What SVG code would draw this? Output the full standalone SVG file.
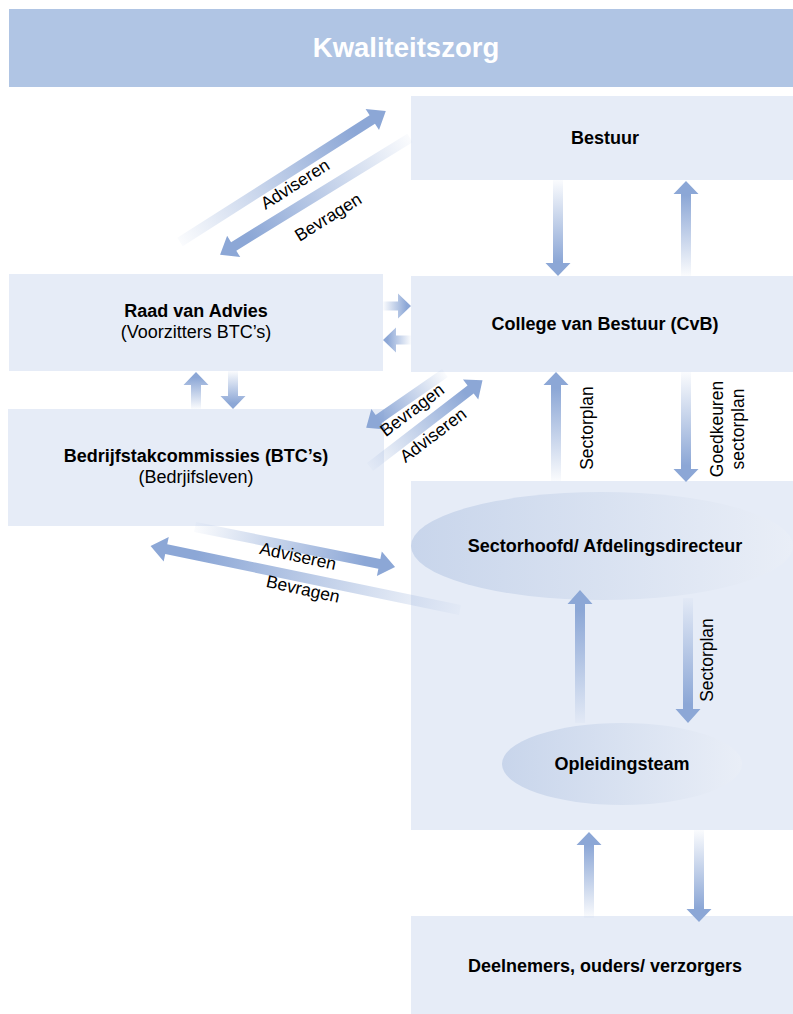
<svg xmlns="http://www.w3.org/2000/svg" width="793" height="1014" viewBox="0 0 793 1014">
<defs>
<linearGradient id="fade" x1="0" y1="0" x2="1" y2="0">
<stop offset="0" stop-color="#8CA7D6" stop-opacity="0.04"/>
<stop offset="0.85" stop-color="#8CA7D6" stop-opacity="1"/>
</linearGradient>
<linearGradient id="ell" x1="0" y1="0" x2="1" y2="0">
<stop offset="0" stop-color="#C8D5EB"/>
<stop offset="1" stop-color="#E9EEF7"/>
</linearGradient>
<style>
.box{fill:#E6ECF7}
.arr{fill:url(#fade)}
.b{font-family:"Liberation Sans",Arial,sans-serif;font-weight:bold;font-size:18px;fill:#000;text-anchor:middle}
.r{font-family:"Liberation Sans",Arial,sans-serif;font-size:18px;fill:#000;text-anchor:middle}
.lbl{font-family:"Liberation Sans",Arial,sans-serif;font-size:17.5px;fill:#000;text-anchor:middle}
</style>
</defs>
<rect width="793" height="1014" fill="#FFFFFF"/>
<g id="header">
<rect x="9" y="9" width="784" height="78" fill="#B0C5E4"/>
<text x="406" y="57" font-family="Liberation Sans, Arial, sans-serif" font-weight="bold" font-size="27.5" fill="#FFFFFF" text-anchor="middle">Kwaliteitszorg</text>
</g>
<g id="bestuur">
<rect class="box" x="411" y="96" width="382" height="84"/>
<text class="b" x="605" y="144">Bestuur</text>
</g>
<g id="raad">
<rect class="box" x="9" y="274" width="374" height="97"/>
<text class="b" x="196" y="317">Raad van Advies</text>
<text class="r" x="196" y="338">(Voorzitters BTC’s)</text>
</g>
<g id="cvb">
<rect class="box" x="411" y="276" width="382" height="96"/>
<text class="b" x="605" y="330">College van Bestuur (CvB)</text>
</g>
<g id="btc">
<rect class="box" x="8" y="409" width="376" height="117"/>
<text class="b" x="196" y="462">Bedrijfstakcommissies (BTC’s)</text>
<text class="r" x="196" y="483">(Bedrjifsleven)</text>
</g>
<g id="sector">
<rect class="box" x="411" y="481" width="382" height="349"/>
<ellipse cx="602" cy="546" rx="191" ry="54" fill="url(#ell)"/>
<text class="b" x="605" y="552">Sectorhoofd/ Afdelingsdirecteur</text>
</g>
<g id="opleidingsteam">
<ellipse cx="622" cy="764" rx="120" ry="41" fill="url(#ell)"/>
<text class="b" x="622" y="770">Opleidingsteam</text>
</g>
<g id="deelnemers">
<rect class="box" x="411" y="916" width="382" height="98"/>
<text class="b" x="605" y="972">Deelnemers, ouders/ verzorgers</text>
</g>
<g id="connectors">
<path class="arr" transform="translate(558,180) rotate(90)" d="M0,-5 H83 V-12.5 L96,0 L83,12.5 V5 H0 Z"/>
<path class="arr" transform="translate(686,276) rotate(-90)" d="M0,-5 H82 V-12.5 L95,0 L82,12.5 V5 H0 Z"/>
<path class="arr" transform="translate(383,306)" d="M0,-4.5 H15 V-12.5 L28,0 L15,12.5 V4.5 H0 Z"/>
<path class="arr" transform="translate(411,340) rotate(180)" d="M0,-4.5 H15 V-12.5 L28,0 L15,12.5 V4.5 H0 Z"/>
<path class="arr" transform="translate(196,409) rotate(-90)" d="M0,-5 H24 V-12.5 L37,0 L24,12.5 V5 H0 Z"/>
<path class="arr" transform="translate(233,371) rotate(90)" d="M0,-5 H25 V-12.5 L38,0 L25,12.5 V5 H0 Z"/>
<path class="arr" transform="translate(445,373) rotate(145.2)" d="M0,-5 H81 V-12.5 L96,0 L81,12.5 V5 H0 Z"/>
<path class="arr" transform="translate(370,467) rotate(-37.6)" d="M0,-5 H127 V-12.5 L142,0 L127,12.5 V5 H0 Z"/>
<path class="arr" transform="translate(180,242) rotate(-32.5)" d="M0,-5 H228 V-12.5 L244,0 L228,12.5 V5 H0 Z"/>
<path class="arr" transform="translate(410,138) rotate(148.4)" d="M0,-5 H207 V-12.5 L223,0 L207,12.5 V5 H0 Z"/>
<path class="arr" transform="translate(195,527) rotate(11.3)" d="M0,-5 H188 V-12.5 L204,0 L188,12.5 V5 H0 Z"/>
<path class="arr" transform="translate(460,610) rotate(191.7)" d="M0,-5 H300 V-12.5 L316,0 L300,12.5 V5 H0 Z"/>
<path class="arr" transform="translate(556,481) rotate(-90)" d="M0,-5 H96 V-12.5 L109,0 L96,12.5 V5 H0 Z"/>
<path class="arr" transform="translate(686,372) rotate(90)" d="M0,-5 H97 V-12.5 L110,0 L97,12.5 V5 H0 Z"/>
<path class="arr" transform="translate(580,723) rotate(-90)" d="M0,-5 H119 V-12.5 L133,0 L119,12.5 V5 H0 Z"/>
<path class="arr" transform="translate(688,598) rotate(90)" d="M0,-5 H111 V-12.5 L125,0 L111,12.5 V5 H0 Z"/>
<path class="arr" transform="translate(589,918) rotate(-90)" d="M0,-5 H73 V-12.5 L86,0 L73,12.5 V5 H0 Z"/>
<path class="arr" transform="translate(699,830) rotate(90)" d="M0,-5 H79 V-12.5 L92,0 L79,12.5 V5 H0 Z"/>
<text class="lbl" transform="translate(295,184) rotate(-32.5)" y="6">Adviseren</text>
<text class="lbl" transform="translate(328,217) rotate(-32)" y="6">Bevragen</text>
<text class="lbl" transform="translate(412,410) rotate(-37)" y="6">Bevragen</text>
<text class="lbl" transform="translate(433,435) rotate(-37)" y="6">Adviseren</text>
<text class="lbl" transform="translate(298,556) rotate(12)" y="6">Adviseren</text>
<text class="lbl" transform="translate(303,589) rotate(12.5)" y="6">Bevragen</text>
<text class="lbl" transform="translate(593,428) rotate(-90)">Sectorplan</text>
<text class="lbl" transform="translate(723,429) rotate(-90)">Goedkeuren</text>
<text class="lbl" transform="translate(744,429) rotate(-90)">sectorplan</text>
<text class="lbl" transform="translate(713,660) rotate(-90)">Sectorplan</text>
</g>
</svg>
